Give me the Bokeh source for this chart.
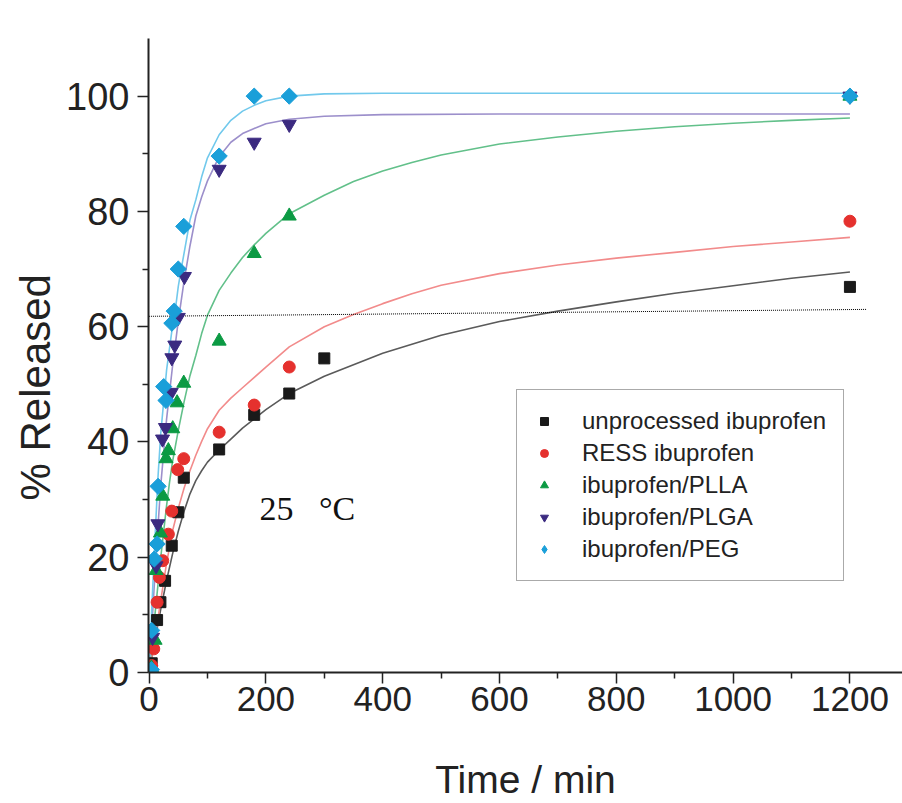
import math
from bokeh.plotting import figure
from bokeh.models import (ColumnDataSource, FixedTicker, Legend, LegendItem,
                          Label, Range1d, Title)
from bokeh.embed import file_html
from bokeh.resources import INLINE

# ---------------- data ----------------
series_names = ["unprocessed ibuprofen", "RESS ibuprofen", "ibuprofen/PLLA",
                "ibuprofen/PLGA", "ibuprofen/PEG"]

# measured points: time (min), % released
t_unproc = [4.5, 13.7, 19.4, 27.4, 38.8, 50, 59.4, 120, 180, 240, 300, 1200]
y_unproc = [1.6, 9.1, 12.2, 15.9, 22.0, 27.8, 33.8, 38.7, 44.7, 48.4, 54.5, 66.9]

t_ress = [4.5, 8, 13.7, 17.7, 23.4, 33, 38.8, 49, 59.4, 120, 180, 240, 1200]
y_ress = [1.2, 4.1, 12.2, 16.5, 19.4, 24.0, 28.0, 35.2, 37.1, 41.7, 46.4, 53.0, 78.3]

t_plla = [4, 10.3, 12, 19.4, 23.4, 29, 33, 40.5, 48, 59.4, 120, 180, 240, 1200]
y_plla = [0.8, 5.6, 17.7, 24.2, 30.6, 37.1, 38.5, 42.3, 46.8, 50.2, 57.5, 72.7, 79.2, 100]

t_plga = [6, 12, 15, 23, 28, 38, 39, 44, 50, 60.5, 120, 180, 240, 1200]
y_plga = [6.1, 18.5, 25.8, 40.5, 42.5, 48.6, 54.6, 56.8, 61.6, 68.7, 87.3, 92.0, 95.1, 100]

t_peg = [4, 4.5, 9, 13.7, 15.4, 25, 29, 39, 43, 50, 59.4, 120, 180, 240, 1200]
y_peg = [0.5, 7.3, 19.7, 22.3, 32.3, 49.6, 47.2, 60.6, 62.7, 70.0, 77.4, 89.6, 100, 100, 100]

# fitted curves
fit_t_unproc = [0, 5, 10, 20, 30, 40, 50, 60, 70, 80, 90, 100, 120, 140, 160, 200, 240,
                300, 400, 500, 600, 700, 800, 900, 1000, 1100, 1200]
fit_y_unproc = [0, 2.8, 5.6, 11, 16, 20.5, 24.5, 28, 31, 33.3, 35, 36.5, 38.6, 40.5, 42.4,
                45.6, 48.4, 51.4, 55.4, 58.5, 60.9, 62.7, 64.3, 65.8, 67.1, 68.4, 69.5]

fit_t_ress = [0, 5, 10, 20, 30, 40, 50, 60, 70, 80, 90, 100, 120, 140, 160, 200, 240, 300,
              350, 400, 450, 500, 600, 700, 800, 900, 1000, 1100, 1200]
fit_y_ress = [0, 3, 6, 12.5, 19, 24.5, 28.5, 32, 35, 37.7, 40.1, 42.3, 45.5, 47.6, 49.4,
              53, 56.5, 60, 62.1, 64, 65.7, 67.2, 69.2, 70.7, 71.9, 72.9, 73.9, 74.7, 75.5]

fit_t_plla = [0, 5, 10, 20, 30, 35, 40, 50, 60, 70, 80, 90, 100, 120, 140, 160, 180, 200,
              240, 300, 350, 400, 450, 500, 600, 700, 800, 900, 1000, 1100, 1200]
fit_y_plla = [0, 5, 10, 20, 29, 33, 36.5, 42, 47, 51.5, 55, 58.8, 62, 66.3, 69.3, 72, 74.2,
              76.2, 79.6, 82.8, 85.2, 87.0, 88.5, 89.8, 91.7, 92.9, 93.9, 94.7, 95.3, 95.8, 96.2]

fit_t_plga = [0, 5, 10, 15, 20, 30, 40, 50, 60, 70, 80, 90, 100, 120, 140, 160, 180, 200,
              240, 300, 400, 600, 800, 1000, 1200]
fit_y_plga = [0, 8.5, 17, 25, 32.5, 44, 53, 61, 68, 74, 79.2, 82.5, 85.3, 89.5, 92, 93.5,
              94.4, 95.2, 96, 96.5, 96.8, 96.9, 96.9, 96.9, 96.9]

fit_t_peg = [0, 5, 10, 15, 20, 30, 40, 45, 50, 55, 60, 70, 80, 90, 100, 120, 140, 160, 180,
             200, 240, 300, 400, 1200]
fit_y_peg = [0, 12, 23, 33.5, 41.5, 52.5, 60, 63, 67, 70, 72.8, 78.5, 82, 86, 89.3, 93.3,
             95.8, 97.4, 98.4, 99.2, 100, 100.4, 100.5, 100.5]

# dotted reference line
ref_t = [0, 1228]
ref_y = [61.8, 63.0]

x_ticks = [0, 200, 400, 600, 800, 1000, 1200]
x_minor = [100, 300, 500, 700, 900, 1100]
y_ticks = [0, 20, 40, 60, 80, 100]
y_minor = [10, 30, 50, 70, 90]

# ---------------- styles ----------------
marker_col = ["#1a1a1a", "#e5312e", "#0b9a43", "#3b2a80", "#1a9fd9"]
curve_col = ["#5a5a5a", "#f28b8b", "#62c08a", "#9c8fcb", "#72c9ec"]
markers = ["square", "circle", "triangle", "inverted_triangle", "square"]
angles = [0, 0, 0, 0, math.pi / 4]
msizes = [11, 12, 14, 14, 11.5]
leg_markers = ["square", "circle", "triangle", "inverted_triangle", "diamond"]
leg_sizes = [10, 11, 12, 12, 16]

p = figure(width=902, height=803, x_range=Range1d(-1, 1290), y_range=Range1d(0, 110),
           output_backend="svg", toolbar_location=None,
           min_border_left=148, min_border_right=0, min_border_top=38,
           min_border_bottom=131)
p.outline_line_color = None
p.xgrid.visible = False
p.ygrid.visible = False
p.background_fill_color = "white"
p.border_fill_color = "white"

for ax in (p.xaxis[0], p.yaxis[0]):
    ax.axis_line_width = 2
    ax.axis_line_color = "#222222"
    ax.major_tick_line_color = "#222222"
    ax.minor_tick_line_color = "#222222"
    ax.major_tick_line_width = 1.5
    ax.minor_tick_line_width = 1.5
    ax.major_tick_in = 0
    ax.minor_tick_in = 0
    ax.major_tick_out = 11
    ax.minor_tick_out = 6
    ax.major_label_text_color = "#222222"
    ax.axis_label_text_color = "#222222"

p.xaxis.ticker = FixedTicker(ticks=x_ticks, minor_ticks=x_minor)
p.yaxis.ticker = FixedTicker(ticks=y_ticks, minor_ticks=y_minor)

p.xaxis.major_label_text_font = "Liberation Sans"
p.xaxis.major_label_text_font_size = "35px"
p.xaxis.major_label_standoff = 3
p.xaxis.axis_label = "Time / min"
p.xaxis.axis_label_text_font = "Liberation Sans"
p.xaxis.axis_label_text_font_size = "39px"
p.xaxis.axis_label_text_font_style = "normal"
p.xaxis.axis_label_standoff = 44

p.yaxis.major_label_text_font = "Liberation Sans"
p.yaxis.major_label_text_font_size = "38px"
p.yaxis.major_label_standoff = 8

# y axis title as a side title, anchored from the frame bottom like the reference
p.add_layout(Title(text="% Released", align="left", offset=172,
                   text_font="Liberation Sans", text_font_size="42px",
                   text_font_style="normal", text_color="#222222"), "left")

# curves
fits = [(fit_t_unproc, fit_y_unproc), (fit_t_ress, fit_y_ress), (fit_t_plla, fit_y_plla),
        (fit_t_plga, fit_y_plga), (fit_t_peg, fit_y_peg)]
for (ft, fy), c in zip(fits, curve_col):
    p.line(x=ft, y=fy, line_color=c, line_width=1.6)

p.line(x=ref_t, y=ref_y, line_color="black", line_width=1, line_dash="1 1")

# points
pts = [(t_unproc, y_unproc), (t_ress, y_ress), (t_plla, y_plla), (t_plga, y_plga),
       (t_peg, y_peg)]
for (tt, yy), c, m, a, s in zip(pts, marker_col, markers, angles, msizes):
    p.scatter(x=tt, y=yy, marker=m, angle=a, size=s, fill_color=c, line_color=c)

# legend (smaller symbols, as in the reference); NaN rows draw nothing on the plot
items = []
for name, c, m, s in zip(series_names, marker_col, leg_markers, leg_sizes):
    src = ColumnDataSource(dict(x=[float("nan")], y=[float("nan")]))
    r = p.scatter(x="x", y="y", source=src, marker=m, size=s,
                  fill_color=c, line_color=c)
    items.append(LegendItem(label=name, renderers=[r]))

legend = Legend(items=items, location=(368, 91))
legend.border_line_color = "#555555"
legend.border_line_width = 1.5
legend.background_fill_color = "white"
legend.background_fill_alpha = 1
legend.label_text_font = "Liberation Sans"
legend.label_text_font_size = "24px"
legend.label_text_color = "#222222"
legend.padding = 17
legend.spacing = 4
legend.margin = 0
legend.glyph_width = 20
legend.glyph_height = 24
legend.label_height = 24
legend.label_standoff = 28
p.add_layout(legend, "center")

p.add_layout(Label(x=189, y=28.5, text="25\u00a0\u00a0\u00a0\u00b0C", text_font="Liberation Serif",
                   text_font_size="34px", text_color="#111111", text_align="left",
                   text_baseline="alphabetic"))

open("out.html", "w").write(file_html(p, INLINE))
